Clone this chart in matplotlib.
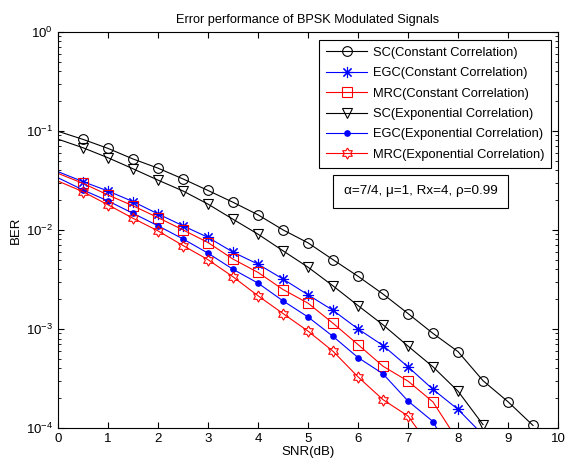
import numpy as np
import matplotlib.pyplot as plt

plt.rcParams['font.family'] = ['Liberation Sans', 'DejaVu Sans']
plt.rcParams['mathtext.fontset'] = 'custom'
plt.rcParams['mathtext.rm'] = 'Liberation Sans'

# ---- data ----
snr_sc_const = np.arange(0, 10.0, 0.5)          # 0 .. 9.5
ber_sc_const = [0.099, 0.082, 0.0665, 0.052, 0.042, 0.0327, 0.025, 0.019,
                0.0142, 0.0100, 0.0074, 0.0050, 0.0034, 0.00225, 0.00143,
                0.00090, 0.00059, 0.00030, 0.000184, 0.000106]

snr_egc_const = np.arange(0, 9.0, 0.5)          # 0 .. 8.5
ber_egc_const = [0.0387, 0.0307, 0.0247, 0.0193, 0.0145, 0.0110, 0.0084,
                 0.00596, 0.00451, 0.00319, 0.00221, 0.00154, 0.00100,
                 0.00068, 0.000414, 0.000245, 0.000154, 0.000085]

snr_mrc_const = np.arange(0, 8.5, 0.5)          # 0 .. 8
ber_mrc_const = [0.0372, 0.0295, 0.0225, 0.0175, 0.0133, 0.0100, 0.00745,
                 0.00507, 0.00372, 0.00250, 0.00182, 0.00114, 0.000695,
                 0.00042, 0.000297, 0.000183, 0.000074]

snr_sc_exp = np.arange(0, 9.0, 0.5)             # 0 .. 8.5
ber_sc_exp = [0.0824, 0.0675, 0.0535, 0.0414, 0.0318, 0.0247, 0.0182,
              0.0128, 0.00905, 0.00615, 0.0042, 0.00272, 0.00172, 0.0011,
              0.00067, 0.000414, 0.000235, 0.000108]

snr_egc_exp = np.arange(0, 8.5, 0.5)            # 0 .. 8
ber_egc_exp = [0.0336, 0.0253, 0.0196, 0.0147, 0.0110, 0.0081, 0.00582,
               0.0040, 0.0029, 0.00192, 0.00132, 0.00084, 0.000514,
               0.000352, 0.000187, 0.000116, 0.00004]

snr_mrc_exp = np.arange(0, 8.0, 0.5)            # 0 .. 7.5
ber_mrc_exp = [0.0311, 0.0243, 0.0179, 0.0131, 0.00977, 0.00695, 0.0050,
               0.00336, 0.00216, 0.00143, 0.00095, 0.000595, 0.000328,
               0.000193, 0.000132, 0.000059]

labels = ['SC(Constant Correlation)', 'EGC(Constant Correlation)',
          'MRC(Constant Correlation)', 'SC(Exponential Correlation)',
          'EGC(Exponential Correlation)', 'MRC(Exponential Correlation)']

# hexagram marker (star of David, like matlab 'h')
ang = np.deg2rad(90 + np.arange(12) * 30)
rad = np.where(np.arange(12) % 2 == 0, 1.0, 0.577)
hexagram = list(zip(rad * np.cos(ang), rad * np.sin(ang)))
hexagram.append(hexagram[0])

fig = plt.figure(figsize=(5.65, 4.65), dpi=100)
ax = fig.add_axes([0.1027, 0.0796, 0.885, 0.852])

mk = slice(1, None)  # no marker at SNR = 0
ax.semilogy(snr_sc_const, ber_sc_const, '-', color='k', lw=0.8, marker='o',
            ms=7, mfc='none', mec='k', mew=0.8, markevery=mk, label=labels[0])
ax.semilogy(snr_egc_const, ber_egc_const, '-', color='b', lw=0.8,
            marker=(8, 2, 0), ms=8, mec='b', mew=0.8, markevery=mk,
            label=labels[1])
ax.semilogy(snr_mrc_const, ber_mrc_const, '-', color='r', lw=0.8, marker='s',
            ms=7, mfc='none', mec='r', mew=0.8, markevery=mk, label=labels[2])
ax.semilogy(snr_sc_exp, ber_sc_exp, '-', color='k', lw=0.8, marker='v',
            ms=7, mfc='none', mec='k', mew=0.8, markevery=mk, label=labels[3])
ax.semilogy(snr_egc_exp, ber_egc_exp, '-', color='b', lw=0.8, marker='o',
            ms=3.8, mfc='b', mec='b', markevery=mk, label=labels[4])
ax.semilogy(snr_mrc_exp, ber_mrc_exp, '-', color='r', lw=0.8, marker=hexagram,
            ms=8, mfc='none', mec='r', mew=0.8, markevery=mk, label=labels[5])

ax.set_xlim(0, 10)
ax.set_ylim(1e-4, 1e0)
ax.set_xticks(range(0, 11))
ax.tick_params(which='both', direction='in', top=True, right=True,
               labelsize=9.5)
ax.tick_params(which='major', length=4)
ax.tick_params(which='minor', length=2)
for s in ax.spines.values():
    s.set_linewidth(0.8)

ax.set_title('Error performance of BPSK Modulated Signals', fontsize=9.2, pad=6)
ax.set_xlabel('SNR(dB)', fontsize=9.5, labelpad=1)
ax.set_ylabel('BER', fontsize=9.5, labelpad=3)

leg = ax.legend(loc='upper right', bbox_to_anchor=(0.986, 0.98),
                borderaxespad=0, fontsize=9.3, fancybox=False,
                edgecolor='k', framealpha=1, handlelength=3.2,
                labelspacing=0.65, borderpad=0.54, handletextpad=0.4)
leg.get_frame().set_linewidth(0.8)

ax.text(0.725, 0.597, 'α=7/4, μ=1, Rx=4, ρ=0.99', transform=ax.transAxes,
        ha='center', va='center', fontsize=9.7,
        bbox=dict(boxstyle='square,pad=0.8', fc='white', ec='k', lw=0.8))

fig.savefig('out.png', dpi=100)
